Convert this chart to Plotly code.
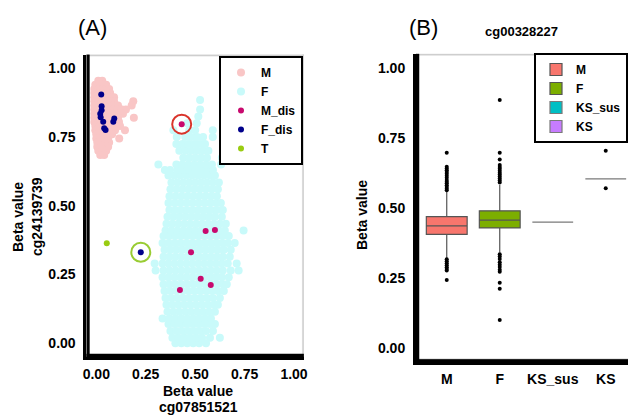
import plotly.graph_objects as go

# ---------------- Panel A data (Beta values cg07851521 vs cg24139739) ----------------
m_rows_y = [0.955, 0.940, 0.925, 0.910, 0.895, 0.880, 0.865, 0.850, 0.835, 0.820,
            0.805, 0.790, 0.775, 0.760, 0.745, 0.730, 0.715, 0.700, 0.685]
m_rows_x = [
    [0.01, 0.03],
    [-0.005, 0.015, 0.035, 0.05],
    [-0.01, 0.01, 0.03, 0.05, 0.065],
    [-0.01, 0.01, 0.03, 0.05, 0.07],
    [-0.01, 0.01, 0.03, 0.05, 0.07, 0.09],
    [-0.01, 0.01, 0.03, 0.05, 0.07, 0.09, 0.187],
    [-0.01, 0.01, 0.03, 0.05, 0.07, 0.09, 0.11, 0.179],
    [-0.01, 0.01, 0.03, 0.05, 0.07, 0.09, 0.11, 0.13, 0.15],
    [-0.01, 0.01, 0.03, 0.05, 0.07, 0.09, 0.11, 0.135],
    [-0.01, 0.01, 0.03, 0.05, 0.07, 0.09, 0.11, 0.19],
    [-0.01, 0.01, 0.03, 0.05, 0.07, 0.09, 0.115],
    [-0.005, 0.015, 0.035, 0.055, 0.075, 0.095, 0.12],
    [-0.005, 0.015, 0.035, 0.055, 0.075, 0.095, 0.145],
    [0.00, 0.02, 0.04, 0.06, 0.08],
    [0.00, 0.02, 0.04, 0.06, 0.116],
    [0.005, 0.025, 0.045, 0.065],
    [0.005, 0.025, 0.045, 0.06],
    [0.01, 0.03, 0.05],
    [0.02, 0.04],
]

f_rows_y = [0.000, 0.020, 0.045, 0.070, 0.090, 0.115, 0.140, 0.165, 0.190, 0.215,
            0.240, 0.265, 0.290, 0.315, 0.340, 0.365, 0.390, 0.410, 0.435, 0.460,
            0.485, 0.510, 0.535, 0.560, 0.585, 0.610, 0.630, 0.650, 0.675, 0.700,
            0.725, 0.750, 0.775, 0.800, 0.825, 0.850, 0.885]
f_rows_x = [
    [0.40, 0.43, 0.46, 0.49, 0.52, 0.555],
    [0.385, 0.415, 0.445, 0.475, 0.505, 0.535, 0.575, 0.625],
    [0.375, 0.405, 0.435, 0.465, 0.495, 0.525, 0.555, 0.59],
    [0.365, 0.395, 0.425, 0.455, 0.485, 0.515, 0.545, 0.575, 0.60],
    [0.335, 0.37, 0.40, 0.43, 0.46, 0.49, 0.52, 0.55, 0.58],
    [0.36, 0.39, 0.42, 0.45, 0.48, 0.51, 0.54, 0.57, 0.60],
    [0.355, 0.385, 0.415, 0.445, 0.475, 0.505, 0.535, 0.565, 0.595, 0.615],
    [0.35, 0.38, 0.41, 0.44, 0.47, 0.50, 0.53, 0.56, 0.59, 0.625],
    [0.345, 0.375, 0.405, 0.435, 0.465, 0.495, 0.525, 0.555, 0.585, 0.615, 0.645],
    [0.34, 0.37, 0.40, 0.43, 0.46, 0.49, 0.52, 0.55, 0.58, 0.61, 0.64, 0.66],
    [0.335, 0.365, 0.395, 0.425, 0.455, 0.485, 0.515, 0.545, 0.575, 0.605, 0.635, 0.67],
    [0.30, 0.34, 0.37, 0.40, 0.43, 0.46, 0.49, 0.52, 0.55, 0.58, 0.61, 0.64, 0.68, 0.72],
    [0.295, 0.335, 0.365, 0.395, 0.425, 0.455, 0.485, 0.515, 0.545, 0.575, 0.605, 0.635, 0.665, 0.71],
    [0.34, 0.37, 0.40, 0.43, 0.46, 0.49, 0.52, 0.55, 0.58, 0.61, 0.64, 0.675],
    [0.345, 0.375, 0.405, 0.435, 0.465, 0.495, 0.525, 0.555, 0.585, 0.615, 0.645, 0.68],
    [0.335, 0.365, 0.395, 0.425, 0.455, 0.485, 0.515, 0.545, 0.575, 0.605, 0.635, 0.665, 0.70],
    [0.34, 0.37, 0.40, 0.43, 0.46, 0.49, 0.52, 0.55, 0.58, 0.61, 0.64, 0.67],
    [0.35, 0.38, 0.41, 0.44, 0.47, 0.50, 0.53, 0.56, 0.59, 0.62, 0.65, 0.745],
    [0.355, 0.385, 0.415, 0.445, 0.475, 0.505, 0.535, 0.565, 0.595, 0.625, 0.655],
    [0.36, 0.39, 0.42, 0.45, 0.48, 0.51, 0.54, 0.57, 0.60, 0.635],
    [0.37, 0.40, 0.43, 0.46, 0.49, 0.52, 0.55, 0.58, 0.61, 0.64],
    [0.365, 0.395, 0.425, 0.455, 0.485, 0.515, 0.545, 0.575, 0.605, 0.63],
    [0.37, 0.40, 0.43, 0.46, 0.49, 0.52, 0.55, 0.58, 0.61],
    [0.375, 0.405, 0.435, 0.465, 0.495, 0.525, 0.555, 0.585, 0.615],
    [0.38, 0.41, 0.44, 0.47, 0.50, 0.53, 0.56, 0.59, 0.62],
    [0.365, 0.395, 0.425, 0.455, 0.485, 0.515, 0.545, 0.575, 0.60],
    [0.347, 0.373, 0.41, 0.44, 0.47, 0.50, 0.53, 0.56, 0.59],
    [0.314, 0.405, 0.435, 0.465, 0.495, 0.525, 0.555, 0.585, 0.631],
    [0.44, 0.47, 0.50, 0.53, 0.56, 0.635],
    [0.42, 0.45, 0.48, 0.51, 0.54, 0.567],
    [0.405, 0.435, 0.465, 0.495, 0.525, 0.55],
    [0.407, 0.45, 0.48, 0.51, 0.54, 0.589],
    [0.39, 0.47, 0.50, 0.589],
    [0.46, 0.508],
    [0.516],
    [0.525],
    [0.525],
]

m_dis_x = [0.432, 0.553, 0.600, 0.479, 0.528, 0.579, 0.423]
m_dis_y = [0.797, 0.408, 0.412, 0.331, 0.235, 0.212, 0.194]

f_dis_x = [0.025, 0.027, 0.027, 0.020, 0.022, 0.035, 0.040, 0.047, 0.091, 0.086, 0.225]
f_dis_y = [0.905, 0.862, 0.848, 0.835, 0.822, 0.806, 0.782, 0.776, 0.818, 0.806, 0.331]

t_x = [0.053]
t_y = [0.364]

circled_x = [0.432, 0.225]
circled_y = [0.797, 0.331]
circled_colors = ["#D9342B", "#99CC33"]

tick_vals = [0, 0.25, 0.5, 0.75, 1.0]
tick_text = ["0.00", "0.25", "0.50", "0.75", "1.00"]

# ---------------- Panel B data (cg00328227 box plot) ----------------
groups = ["M", "F", "KS_sus", "KS"]
box_q1 = [0.406, 0.429, 0.450, 0.604]
box_median = [0.436, 0.457, 0.450, 0.604]
box_q3 = [0.469, 0.490, 0.450, 0.604]
box_low = [0.321, 0.341, 0.450, 0.604]
box_high = [0.558, 0.582, 0.450, 0.604]
box_fill = ["#F8766D", "#7CAE00", "#00BFC4", "#C77CFF"]
box_line = ["#555555", "#555555", "#7a7a7a", "#7a7a7a"]

outliers_M = [0.697, 0.647, 0.641, 0.635, 0.628, 0.622, 0.615, 0.608, 0.600, 0.594,
              0.588, 0.581, 0.575, 0.569, 0.563, 0.317, 0.310, 0.303, 0.296, 0.289,
              0.283, 0.277, 0.243]
outliers_F = [0.885, 0.697, 0.673, 0.653, 0.646, 0.640, 0.633, 0.626, 0.619, 0.612,
              0.605, 0.598, 0.591, 0.335, 0.327, 0.318, 0.307, 0.298, 0.290, 0.280,
              0.273, 0.234, 0.212, 0.101]
outliers_KS = [0.704, 0.570]

FONT = "Liberation Sans, Arial, sans-serif"

A_XR = [-0.05, 1.05]
A_YR = [-0.05, 1.05]
B_XR = [-0.58, 3.42]
B_YR = [-0.05, 1.05]


def b(s):
    return "<b>" + s + "</b>"


def flatten(rows_y, rows_x):
    xs, ys = [], []
    for yv, row in zip(rows_y, rows_x):
        for xv in row:
            xs.append(xv)
            ys.append(yv)
    return xs, ys


fig = go.Figure()

mx, my = flatten(m_rows_y, m_rows_x)
fx, fy = flatten(f_rows_y, f_rows_x)

fig.add_trace(go.Scatter(x=mx, y=my, mode="markers", name=b("M"),
                         marker=dict(color="#F9C6C6", size=8, line=dict(width=0)),
                         xaxis="x", yaxis="y", legend="legend"))
fig.add_trace(go.Scatter(x=fx, y=fy, mode="markers", name=b("F"),
                         marker=dict(color="#C9FAFA", size=8, line=dict(width=0)),
                         xaxis="x", yaxis="y", legend="legend"))
fig.add_trace(go.Scatter(x=m_dis_x, y=m_dis_y, mode="markers", name=b("M_dis"),
                         marker=dict(color="#C80A6E", size=6, line=dict(width=0)),
                         xaxis="x", yaxis="y", legend="legend"))
fig.add_trace(go.Scatter(x=f_dis_x, y=f_dis_y, mode="markers", name=b("F_dis"),
                         marker=dict(color="#00008B", size=6, line=dict(width=0)),
                         xaxis="x", yaxis="y", legend="legend"))
fig.add_trace(go.Scatter(x=t_x, y=t_y, mode="markers", name=b("T"),
                         marker=dict(color="#99CC11", size=6, line=dict(width=0)),
                         xaxis="x", yaxis="y", legend="legend"))
fig.add_trace(go.Scatter(x=circled_x, y=circled_y, mode="markers", showlegend=False,
                         marker=dict(symbol="circle-open", size=19, color=circled_colors,
                                     line=dict(width=2)),
                         xaxis="x", yaxis="y", hoverinfo="skip"))

pos = list(range(len(groups)))
for i, g in enumerate(groups):
    fig.add_trace(go.Box(x=[pos[i]], q1=[box_q1[i]], median=[box_median[i]], q3=[box_q3[i]],
                         lowerfence=[box_low[i]], upperfence=[box_high[i]],
                         name=b(g), fillcolor=box_fill[i],
                         line=dict(color=box_line[i], width=1.2),
                         whiskerwidth=0, width=0.77, boxpoints=False,
                         xaxis="x2", yaxis="y2", legend="legend2"))

for g, vals in [("M", outliers_M), ("F", outliers_F), ("KS", outliers_KS)]:
    gi = groups.index(g)
    fig.add_trace(go.Scatter(x=[gi] * len(vals), y=vals, mode="markers", showlegend=False,
                             marker=dict(color="black", size=4),
                             xaxis="x2", yaxis="y2"))

W, H = 628, 416
A_L, A_R, A_T, A_B = 86.4, 303.9, 54.6, 357.0
B_L, B_R, B_T, B_B = 416.0, 628.0, 53.7, 362.3


# ---- panel frame as thin filled strips at the axis limits ----
def strip(x0, x1, y0, y1, color, xa, ya):
    fig.add_trace(go.Scatter(x=[x0, x1, x1, x0, x0], y=[y0, y0, y1, y1, y0],
                             mode="lines", fill="toself", fillcolor=color,
                             line=dict(color=color, width=0.5), showlegend=False,
                             hoverinfo="skip", xaxis=xa, yaxis=ya))


def frame(xr, yr, wpx, hpx, xa, ya, right=True):
    dx = (xr[1] - xr[0]) / wpx
    dy = (yr[1] - yr[0]) / hpx
    strip(xr[1] - 1.5 * dx if right else xr[1], xr[1], yr[0], yr[1], "#cfcfcf", xa, ya) if right else None
    strip(xr[0], xr[1], yr[1] - 1.5 * dy, yr[1], "#cfcfcf", xa, ya)
    strip(xr[0], xr[0] + 3 * dx, yr[0], yr[1], "black", xa, ya)
    strip(xr[0], xr[1], yr[0], yr[0] + 3 * dy, "black", xa, ya)


frame(A_XR, A_YR, A_R - A_L, A_B - A_T, "x", "y", right=True)
frame(B_XR, B_YR, B_R - B_L, B_B - B_T, "x2", "y2", right=False)

axis_common = dict(showgrid=False, zeroline=False, showline=True, linecolor="black",
                   linewidth=3, ticks="",
                   tickfont=dict(family=FONT, size=14, color="black"))

fig.update_layout(
    template="none",
    width=W, height=H,
    paper_bgcolor="white", plot_bgcolor="white",
    margin=dict(l=0, r=0, t=0, b=0, autoexpand=False),
    font=dict(family=FONT, color="black"),
    boxmode="overlay",
    xaxis=dict(domain=[A_L / W, A_R / W], range=A_XR,
               tickvals=tick_vals, ticktext=[b(t) for t in tick_text], anchor="y",
               ticklabelstandoff=2, **axis_common),
    yaxis=dict(domain=[(H - A_B) / H, (H - A_T) / H], range=A_YR,
               tickvals=tick_vals, ticktext=[b(t) for t in tick_text], anchor="x",
               ticklabelstandoff=5, **axis_common),
    xaxis2=dict(domain=[B_L / W, B_R / W], range=B_XR,
                tickvals=pos, ticktext=[b(g) for g in groups], anchor="y2",
                ticklabelstandoff=2, **axis_common),
    yaxis2=dict(domain=[(H - B_B) / H, (H - B_T) / H], range=B_YR,
                tickvals=tick_vals, ticktext=[b(t) for t in tick_text], anchor="x2",
                ticklabelstandoff=5, **axis_common),
    legend=dict(x=303 / W, y=(H - 56) / H, xanchor="right", yanchor="top",
                bgcolor="white", bordercolor="black", borderwidth=2,
                font=dict(family=FONT, size=12, color="black"),
                tracegroupgap=0, itemsizing="trace"),
    legend2=dict(x=1.0, y=(H - 53) / H, xanchor="right", yanchor="top",
                 bgcolor="white", bordercolor="black", borderwidth=2,
                 font=dict(family=FONT, size=12, color="black"),
                 tracegroupgap=0),
    showlegend=True,
)

bold = dict(family=FONT, size=14, color="black")
ann = [
    dict(text="(A)", x=92 / W, y=1 - 28 / H, font=dict(family=FONT, size=22, color="black")),
    dict(text="(B)", x=423 / W, y=1 - 28 / H, font=dict(family=FONT, size=22, color="black")),
    dict(text=b("cg00328227"), x=521 / W, y=1 - 32 / H,
         font=dict(family=FONT, size=13, color="black")),
    dict(text=b("Beta value"), x=18 / W, y=1 - 217 / H, textangle=-90, font=bold),
    dict(text=b("cg24139739"), x=37 / W, y=1 - 217 / H, textangle=-90, font=bold),
    dict(text=b("Beta value"), x=198 / W, y=1 - 391 / H, font=bold),
    dict(text=b("cg07851521"), x=198 / W, y=1 - 407 / H, font=bold),
    dict(text=b("Beta value"), x=362 / W, y=1 - 215 / H, textangle=-90, font=bold),
]
for a in ann:
    fig.add_annotation(xref="paper", yref="paper", showarrow=False,
                       xanchor="center", yanchor="middle", **a)

fig.write_html("out.html", config={"displayModeBar": False},
               post_script="document.body.style.margin='0';document.body.style.padding='0';"
                           "document.body.style.overflow='hidden';")
